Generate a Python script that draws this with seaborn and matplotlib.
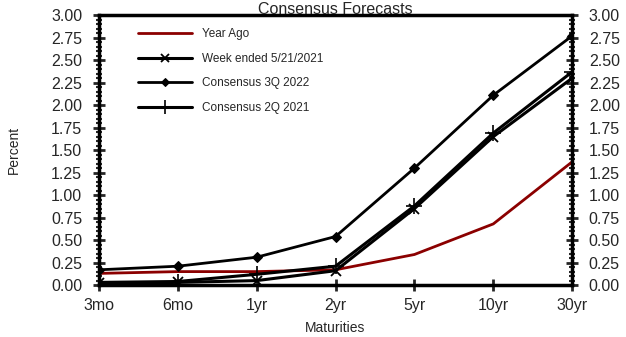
import numpy as np
import pandas as pd
import matplotlib
matplotlib.use("Agg")
import matplotlib.pyplot as plt
import seaborn as sns
from matplotlib.ticker import MultipleLocator

maturities = ["3mo", "6mo", "1yr", "2yr", "5yr", "10yr", "30yr"]
year_ago = [0.13, 0.15, 0.15, 0.17, 0.34, 0.68, 1.37]
week_ended = [0.02, 0.03, 0.05, 0.16, 0.85, 1.65, 2.30]
cons_3q2022 = [0.17, 0.21, 0.31, 0.54, 1.30, 2.11, 2.77]
cons_2q2021 = [0.03, 0.04, 0.12, 0.21, 0.88, 1.69, 2.37]

sns.set_style("white")
plt.rcParams['font.family'] = ['Liberation Sans', 'DejaVu Sans']

fig = plt.figure(figsize=(6.26, 3.37), dpi=100)
ax = fig.add_axes([0.158, 0.154, 0.756, 0.801])

sns.lineplot(x=maturities, y=year_ago, sort=False, color='#8B0000', lw=2,
             label="Year Ago", ax=ax)
sns.lineplot(x=maturities, y=week_ended, sort=False, color='black', lw=2.2,
             marker='x', markersize=7, markeredgewidth=1.3, markeredgecolor='black',
             label="Week ended 5/21/2021", ax=ax)
sns.lineplot(x=maturities, y=cons_3q2022, sort=False, color='black', lw=2,
             marker='D', markersize=5.5, markeredgecolor='black',
             label="Consensus 3Q 2022", ax=ax)
sns.lineplot(x=maturities, y=cons_2q2021, sort=False, color='black', lw=2.2,
             marker='+', markersize=12, markeredgewidth=1.2, markeredgecolor='black',
             label="Consensus 2Q 2021", ax=ax)

ax.set_xlim(0, 6)
ax.set_ylim(0, 3)
ax.yaxis.set_major_locator(MultipleLocator(0.25))
ax.yaxis.set_minor_locator(MultipleLocator(0.05))
ax.yaxis.set_major_formatter(matplotlib.ticker.FormatStrFormatter('%.2f'))
ax.tick_params(axis='y', which='major', direction='inout', length=8, width=2,
               left=True, right=True, labelleft=True, labelright=True, labelsize=11.5, pad=8)
ax.tick_params(axis='y', which='minor', direction='inout', length=4, width=1.5,
               left=True, right=True)
ax.tick_params(axis='x', which='major', direction='inout', length=8, width=2,
               bottom=True, labelsize=11.5, pad=5)
for s in ax.spines.values():
    s.set_linewidth(2.5)
    s.set_color('black')

ax.set_xlabel("Maturities", fontsize=10, labelpad=6)
ax.set_ylabel("Percent", fontsize=10, labelpad=22)
ax.set_title("Consensus Forecasts", fontsize=11.5, pad=1)

leg = ax.legend(loc='upper left', bbox_to_anchor=(0.06, 0.99), frameon=False,
                fontsize=8.5, handlelength=4.6, labelspacing=1.05, markerscale=0.8)

fig.savefig("out.png", dpi=100)
